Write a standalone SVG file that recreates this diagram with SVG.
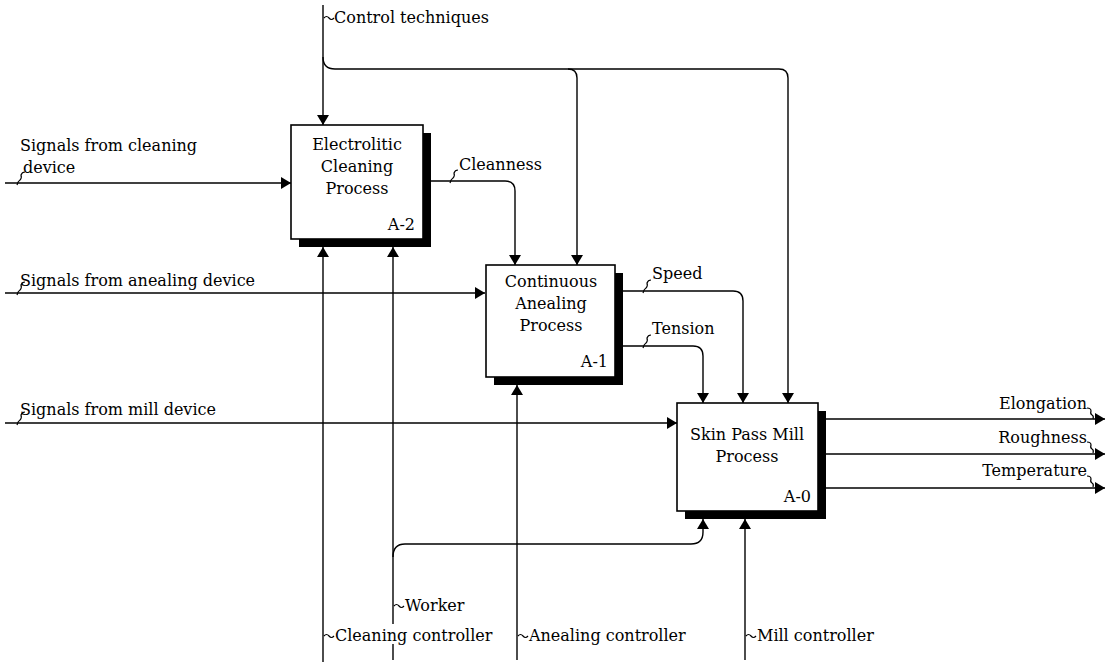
<svg xmlns="http://www.w3.org/2000/svg" width="1112" height="666" viewBox="0 0 1112 666">
<style>
text{font-family:"DejaVu Serif","Liberation Serif",serif;font-size:16px;fill:#000}
.box{fill:#fff;stroke:#000;stroke-width:1.6}
.sh{fill:#000}
.c{fill:none;stroke:#000;stroke-width:1.4}
.sq{fill:none;stroke:#000;stroke-width:1.2}
.m{text-anchor:middle}
.e{text-anchor:end}
</style>
<defs>
<marker id="ah" markerUnits="userSpaceOnUse" markerWidth="14" markerHeight="14" refX="10" refY="6" orient="auto">
<path d="M0,0 L10,6 L0,12 Z" fill="#000"/>
</marker>
</defs>
<rect width="1112" height="666" fill="#fff"/>
<g id="connectors">
<path class="c" d="M323,5 L323,125" marker-end="url(#ah)"/>
<path class="c" d="M323,57 Q323,69 335,69 L568,69 Q577,69 577,78 L577,265" marker-end="url(#ah)"/>
<path class="c" d="M568,69 L779,69 Q788,69 788,78 L788,403" marker-end="url(#ah)"/>
<path class="c" d="M5,183 L291,183" marker-end="url(#ah)"/>
<path class="c" d="M5,293 L485,293" marker-end="url(#ah)"/>
<path class="c" d="M5,423 L677,423" marker-end="url(#ah)"/>
<path class="c" d="M431,181 L505,181 Q515,181 515,191 L515,265" marker-end="url(#ah)"/>
<path class="c" d="M622,291 L733,291 Q743,291 743,301 L743,403" marker-end="url(#ah)"/>
<path class="c" d="M622,346 L693,346 Q703,346 703,356 L703,403" marker-end="url(#ah)"/>
<path class="c" d="M826,419 L1105,419" marker-end="url(#ah)"/>
<path class="c" d="M826,454 L1105,454" marker-end="url(#ah)"/>
<path class="c" d="M826,488 L1105,488" marker-end="url(#ah)"/>
<path class="c" d="M323,662 L323,247" marker-end="url(#ah)"/>
<path class="c" d="M393,660 L393,247" marker-end="url(#ah)"/>
<path class="c" d="M393,557 Q393,544 405,544 L691,544 Q703,544 703,532 L703,519" marker-end="url(#ah)"/>
<path class="c" d="M517,660 L517,385" marker-end="url(#ah)"/>
<path class="c" d="M745,660 L745,519" marker-end="url(#ah)"/>
</g>
<g id="A2">
<rect class="sh" x="299" y="133" width="132" height="114"/>
<rect class="box" x="291" y="125" width="132" height="114"/>
<text class="m" x="357" y="150">Electrolitic</text>
<text class="m" x="357" y="172">Cleaning</text>
<text class="m" x="357" y="194">Process</text>
<text class="e" x="415" y="230">A-2</text>
</g>
<g id="A1">
<rect class="sh" x="494" y="273" width="129" height="112"/>
<rect class="box" x="486" y="265" width="129" height="112"/>
<text class="m" x="551" y="287">Continuous</text>
<text class="m" x="551" y="309">Anealing</text>
<text class="m" x="551" y="331">Process</text>
<text class="e" x="608" y="367">A-1</text>
</g>
<g id="A0">
<rect class="sh" x="685" y="411" width="141" height="108"/>
<rect class="box" x="677" y="403" width="141" height="108"/>
<text class="m" x="747" y="440">Skin Pass Mill</text>
<text class="m" x="747" y="462">Process</text>
<text class="e" x="811" y="502">A-0</text>
</g>
<g id="labels">
<text x="334" y="23">Control techniques</text>
<path class="sq" d="M324,18 q2.5,-3 5,0 q2.5,3 5,0"/>
<text x="20" y="151">Signals from cleaning</text>
<text x="23" y="173">device</text>
<path class="sq" d="M17,185 q1,-4 3,-5 q2,-2 1,-5 q1,-3 4,-3"/>
<text x="20" y="286">Signals from anealing device</text>
<path class="sq" d="M17,295 q1,-4 3,-5 q2,-2 1,-5 q1,-3 4,-3"/>
<text x="20" y="415">Signals from mill device</text>
<path class="sq" d="M17,425 q1,-4 3,-5 q2,-2 1,-5 q1,-3 4,-3"/>
<text x="459" y="170">Cleanness</text>
<path class="sq" d="M450,183 q1,-4 3,-5 q2,-2 1,-5 q1,-3 4,-3"/>
<text x="652" y="279">Speed</text>
<path class="sq" d="M643,293 q1,-4 3,-5 q2,-2 1,-5 q1,-3 4,-3"/>
<text x="652" y="334">Tension</text>
<path class="sq" d="M643,348 q1,-4 3,-5 q2,-2 1,-5 q1,-3 4,-3"/>
<text class="e" x="1087" y="409">Elongation</text>
<path class="sq" d="M1087,408 q4,0 4,3 q-1,3 1,4 q2,1 1,4"/>
<text class="e" x="1087" y="443">Roughness</text>
<path class="sq" d="M1087,442 q4,0 4,3 q-1,3 1,4 q2,1 1,4"/>
<text class="e" x="1087" y="476">Temperature</text>
<path class="sq" d="M1087,476 q4,0 4,3 q-1,3 1,4 q2,1 1,4"/>
<text x="405" y="611">Worker</text>
<path class="sq" d="M394,606 q2.5,-3 5,0 q2.5,3 5,0"/>
<rect x="386" y="624" width="14" height="20" fill="#fff"/>
<text x="335" y="641">Cleaning controller</text>
<path class="sq" d="M324,636 q2.5,-3 5,0 q2.5,3 5,0"/>
<text x="529" y="641">Anealing controller</text>
<path class="sq" d="M518,636 q2.5,-3 5,0 q2.5,3 5,0"/>
<text x="757" y="641">Mill controller</text>
<path class="sq" d="M746,636 q2.5,-3 5,0 q2.5,3 5,0"/>
</g>
</svg>
